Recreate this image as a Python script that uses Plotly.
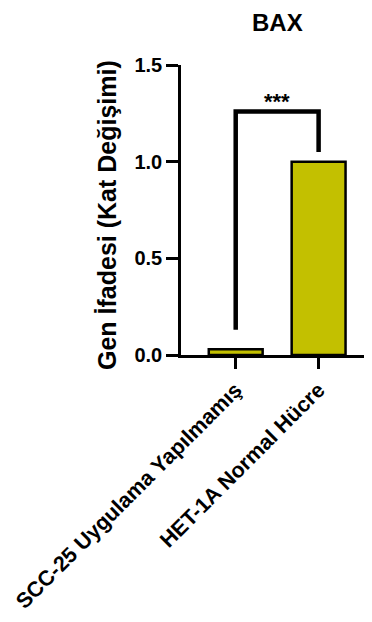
import plotly.graph_objects as go

# Data
categories = ["SCC-25 Uygulama Yapılmamış", "HET-1A Normal Hücre"]
fold_change = [0.03, 1.0]
y_ticks = [0.0, 0.5, 1.0, 1.5]
y_tick_labels = ["0.0", "0.5", "1.0", "1.5"]
title_text = "BAX"
y_title = "Gen İfadesi (Kat Değişimi)"
sig_label = "***"
bracket_top = 1.26
bracket_left_start = 0.13
bracket_right_start = 1.05

FONT = "Liberation Sans, Arial, sans-serif"
OFF = 8  # default body margin of the page
W, H = 372 - OFF, 622 - OFF
ml, mt = 181 - OFF, 65 - OFF
pw, ph = 189, 290
mr = W - ml - pw
mb = H - mt - ph


def px_to_paper_x(px):
    return (px - OFF - ml) / pw


def px_to_paper_y(py):
    return (mt + ph - (py - OFF)) / ph


fig = go.Figure()
fig.add_trace(go.Bar(
    x=[0, 1], y=fold_change, width=0.65,
    marker=dict(color="#c3c000", line=dict(color="black", width=2.5)),
    showlegend=False, hoverinfo="skip",
))
# significance bracket
fig.add_trace(go.Scatter(
    x=[0, 0, 1, 1],
    y=[bracket_left_start, bracket_top, bracket_top, bracket_right_start],
    mode="lines", line=dict(color="black", width=4.5),
    showlegend=False, hoverinfo="skip", cliponaxis=False,
))
fig.add_annotation(x=0.5, y=bracket_top, yshift=-5, text="<b>" + sig_label + "</b>",
                   showarrow=False, yanchor="bottom", xanchor="center",
                   font=dict(family=FONT, size=22, color="black"))

fig.update_xaxes(
    range=[-0.66, 1.62], tickmode="array", tickvals=[0, 1],
    ticktext=["<b>" + c + "</b>" for c in categories],
    tickangle=-45, ticks="outside", ticklen=11, tickwidth=2.6, tickcolor="black",
    showline=True, linecolor="black", linewidth=2.6, showgrid=False, zeroline=False,
    tickfont=dict(family=FONT, size=21.5, color="black"),
)
fig.update_yaxes(
    range=[0, 1.5], tickmode="array", tickvals=y_ticks,
    ticktext=["<b>" + t + "</b>" for t in y_tick_labels],
    ticks="outside", ticklen=12, tickwidth=2.6, tickcolor="black",
    showline=True, linecolor="black", linewidth=2.6, showgrid=False, zeroline=False,
    tickfont=dict(family=FONT, size=20, color="black"),
)
fig.add_annotation(xref="paper", yref="paper",
                   x=px_to_paper_x(107), y=px_to_paper_y(215),
                   xanchor="center", yanchor="middle",
                   text="<b>" + y_title + "</b>", textangle=-90, showarrow=False,
                   font=dict(family=FONT, size=25, color="black"))
fig.add_annotation(xref="paper", yref="paper",
                   x=px_to_paper_x(277), y=px_to_paper_y(OFF),
                   xanchor="center", yanchor="top", borderpad=0,
                   text="<b>" + title_text + "</b>", showarrow=False,
                   font=dict(family=FONT, size=24, color="black"))

fig.update_layout(
    width=W, height=H, margin=dict(l=ml, r=mr, t=mt, b=mb),
    plot_bgcolor="white", paper_bgcolor="white",
)
fig.write_html("out.html")
